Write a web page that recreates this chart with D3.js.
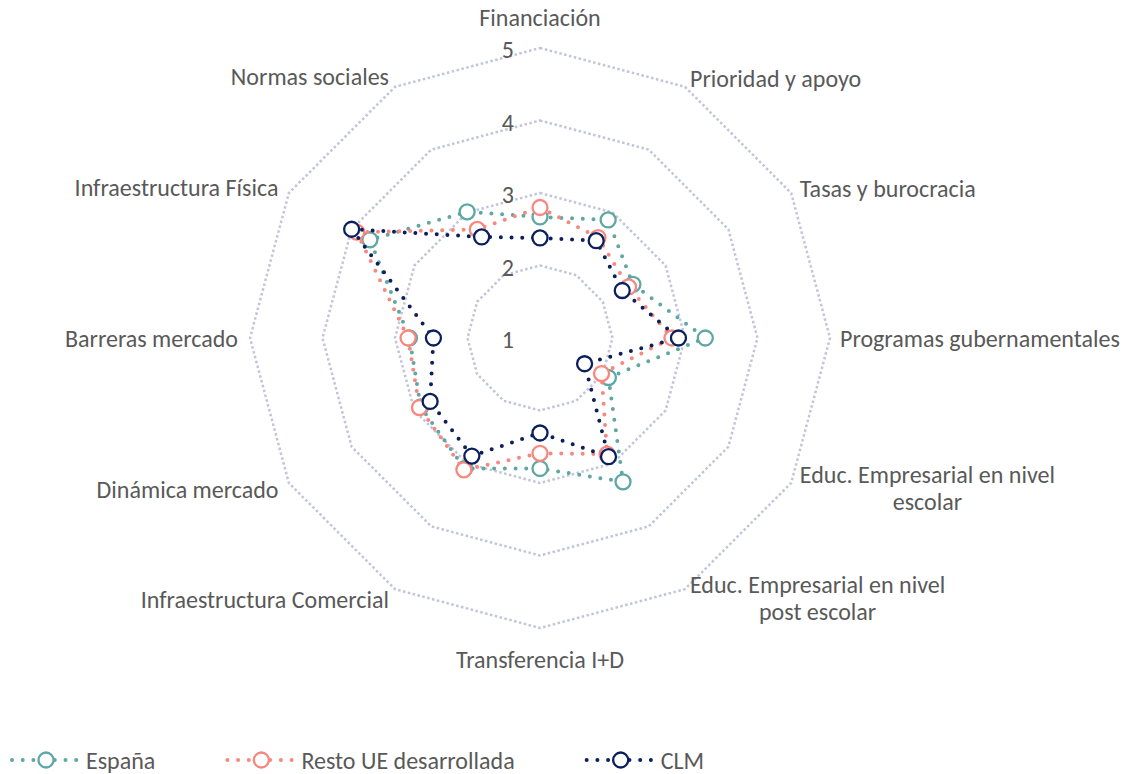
<!DOCTYPE html>
<html><head><meta charset="utf-8">
<script src="https://cdn.jsdelivr.net/npm/d3@7"></script>
<style>
body{margin:0;background:#fff}
text{font-family:Carlito, Lato, sans-serif; fill:#595959}
</style>
</head><body>
<svg id="c" width="1130" height="774"></svg>
<script>
// ---- data ----
const categories = [
  "Financiación",
  "Prioridad y apoyo",
  "Tasas y burocracia",
  "Programas gubernamentales",
  "Educ. Empresarial en nivel\nescolar",
  "Educ. Empresarial en nivel\npost escolar",
  "Transferencia I+D",
  "Infraestructura Comercial",
  "Dinámica mercado",
  "Barreras mercado",
  "Infraestructura Física",
  "Normas sociales"
];
const espana = [2.67, 2.88, 2.48, 3.28, 2.09, 3.29, 2.80, 3.08, 2.90, 2.80, 3.71, 3.01];
const resto  = [2.80, 2.60, 2.41, 2.82, 1.98, 2.85, 2.59, 3.10, 2.92, 2.82, 3.92, 2.73];
const clm    = [2.38, 2.55, 2.31, 2.91, 1.71, 2.89, 2.31, 2.88, 2.75, 2.47, 4.00, 2.61];
const tickValues = [1, 2, 3, 4, 5];
const seriesNames = ["España", "Resto UE desarrollada", "CLM"];
const seriesColors = ["#5ea7a2", "#f8877f", "#0b1f5c"];

// ---- layout ----
const svg = d3.select("#c");
const cx = 540, cy = 338;
const r = d3.scaleLinear().domain([1, 5]).range([0, 290]);
const n = categories.length;
const ang = d3.scaleLinear().domain([0, n]).range([0, 2 * Math.PI]);

// fit font size so that a reference label has the reference width
const probe = svg.append("text").style("font-size", "100px").text("Programas gubernamentales");
const fs = 280 / probe.node().getComputedTextLength() * 100;
probe.remove();

const g = svg.append("g").attr("transform", `translate(${cx},${cy})`);

// grid rings
const ringLine = d3.lineRadial().curve(d3.curveLinearClosed)
  .angle((d, i) => ang(i)).radius(d => r(d));
g.selectAll(".ring").data(tickValues.filter(v => v > 1)).join("path")
  .attr("class", "ring")
  .attr("d", v => ringLine(categories.map(() => v)))
  .attr("fill", "none").attr("stroke", "#c2c4da").attr("stroke-width", 2.5)
  .attr("stroke-dasharray", "2.5 2.5");

// tick labels
g.selectAll(".tick").data(tickValues).join("text")
  .attr("class", "tick")
  .attr("x", -26).attr("y", v => -r(v) + 10)
  .attr("text-anchor", "end").style("font-size", fs + "px")
  .text(v => v);

// series
const seriesData = [espana, resto, clm];
const line = d3.lineRadial().curve(d3.curveLinearClosed)
  .angle((d, i) => ang(i)).radius(d => r(d));
seriesData.forEach((vals, si) => {
  const sg = g.append("g");
  sg.append("path").attr("d", line(vals))
    .attr("fill", "none").attr("stroke", seriesColors[si])
    .attr("stroke-width", 4).attr("stroke-linecap", "round")
    .attr("stroke-dasharray", "0 10.7");
  sg.selectAll("circle").data(vals).join("circle")
    .attr("cx", (d, i) => r(d) * Math.sin(ang(i)))
    .attr("cy", (d, i) => -r(d) * Math.cos(ang(i)))
    .attr("r", 7.5).attr("fill", "#fff")
    .attr("stroke", seriesColors[si]).attr("stroke-width", 2.3);
});

// axis labels
const lh = 27.4;
categories.forEach((label, i) => {
  const a = ang(i);
  const s = Math.sin(a), c = Math.cos(a);
  const lines = label.split("\n");
  let anchor, R;
  if (Math.abs(s) < 0.01) { anchor = "middle"; R = 321; }
  else { anchor = s > 0 ? "start" : "end"; R = s > 0 ? 300 : 302; }
  const x = R * s, yc = -R * c;
  const tg = g.append("g");
  const texts = lines.map((t, k) => tg.append("text").style("font-size", fs + "px").text(t)
    .attr("y", yc - (lines.length - 1) * lh / 2 + k * lh + 0.36 * fs));
  const widths = texts.map(t => t.node().getComputedTextLength());
  const maxW = d3.max(widths);
  let mid;
  if (anchor === "middle") mid = x;
  else if (anchor === "start") mid = x + maxW / 2;
  else mid = x - maxW / 2;
  texts.forEach(t => t.attr("x", mid).attr("text-anchor", "middle"));
});

// legend
const ly = 760;
let lx = 10;
seriesNames.forEach((name, si) => {
  const lg = svg.append("g");
  lg.append("line").attr("x1", lx + 2).attr("x2", lx + 70).attr("y1", ly).attr("y2", ly)
    .attr("stroke", seriesColors[si]).attr("stroke-width", 4).attr("stroke-linecap", "round")
    .attr("stroke-dasharray", "0 10.7");
  lg.append("circle").attr("cx", lx + 36).attr("cy", ly).attr("r", 7.5)
    .attr("fill", "#fff").attr("stroke", seriesColors[si]).attr("stroke-width", 2.3);
  const t = lg.append("text").attr("x", lx + 76).attr("y", ly + 0.36 * fs)
    .style("font-size", fs + "px").text(name);
  lx = lx + 76 + t.node().getComputedTextLength() + 70;
});
</script>
</body></html>
